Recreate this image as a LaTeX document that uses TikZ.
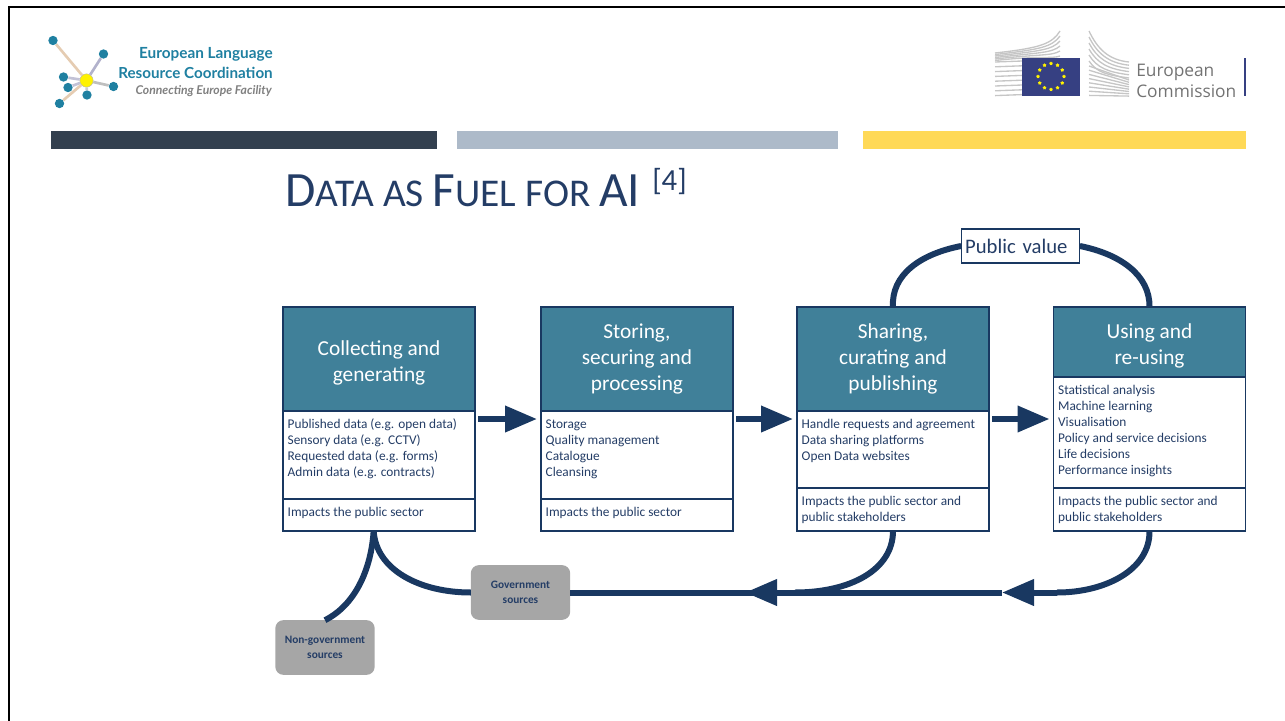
\documentclass[tikz,border=0pt]{standalone}
\usepackage{fontspec}
\setmainfont{Carlito}
\newfontfamily\logofont{Lato}
\newfontfamily\ecfont{Open Sans}
\usepackage{tikz}
\usetikzlibrary{positioning,arrows.meta,shapes.geometric}
\definecolor{navyclr}{rgb}{0.10, 0.22, 0.38}
\definecolor{txtclr}{rgb}{0.14, 0.24, 0.40}
\definecolor{headclr}{rgb}{0.25, 0.50, 0.60}
\definecolor{srcclr}{rgb}{0.65, 0.65, 0.65}
\definecolor{darkbarclr}{rgb}{0.20, 0.25, 0.31}
\definecolor{midbarclr}{rgb}{0.68, 0.73, 0.79}
\definecolor{yelbarclr}{rgb}{1.00, 0.85, 0.34}
\definecolor{tealclr}{rgb}{0.12, 0.50, 0.63}
\definecolor{flagclr}{rgb}{0.21, 0.25, 0.51}
\newcommand{\celltext}[2]{\parbox[t][#1][t]{137pt}{\vspace*{4.8pt}\strut #2}}
\newcommand{\titlecap}[1]{{\fontsize{37}{36}\selectfont #1}}
\tikzset{ %
  ,head/.style={draw=navyclr, line width=0.9pt, fill=headclr, text=white, outer sep=0, inner sep=0, minimum width=144pt, align=center, font=\fontsize{16}{19.5}\selectfont}
  ,cell/.style={draw=navyclr, line width=0.9pt, fill=white, text=txtclr, outer sep=0, inner xsep=3.5pt, inner ysep=0, node distance=0pt, font=\fontsize{10}{12}\selectfont}
  ,src/.style={fill=srcclr, text=txtclr, rounded corners=6pt, outer sep=0, inner sep=0, minimum width=74.5pt, minimum height=41pt, align=center, font=\fontsize{8.5}{11}\selectfont\bfseries}
  ,flow/.style={navyclr, line width=4.5pt}
  ,tip/.style={flow, -{Triangle[length=24pt, width=19pt]}}
  ,bar/.style={inner sep=0, outer sep=0, minimum height=13.5pt}
  ,leaf/.style={circle, fill=tealclr, inner sep=0, minimum size=7pt}
  ,spoke/.style={line width=2pt}
  ,stripe/.style={gray!45, line width=1pt}
}
\begin{document}
\begin{tikzpicture}[x=0.75pt, y=-0.75pt]
  \useasboundingbox (0,0) rectangle (1285,721);
  \draw[line width=2.2pt] (9,721) -- (9,7) -- (1285,7);
  % bars
  \node[bar, fill=darkbarclr, minimum width=289.5pt, anchor=north west] (bar1) at (51,131) {};
  \node[bar, fill=midbarclr, minimum width=285.75pt, anchor=north west] (bar2) at (457,131) {};
  \node[bar, fill=yelbarclr, minimum width=287.25pt, anchor=north west] (bar3) at (863,131) {};
  % elrc logo
  \node[circle, fill=yellow, draw=gray!60, line width=0.3pt, inner sep=0, minimum size=10pt] (hub) at (86.5,80.5) {};
  \foreach \x/\y/\clr [count=\i] in {53/40.5/brown!40, 103.5/54/blue!20!gray!50, 63.5/77/blue!20!gray!40, 68/87.5/blue!20!gray!40, 113.5/86.5/gray!50, 87/95/gray!40, 59.5/103.5/brown!40}{
    \node[leaf] (leaf\i) at (\x,\y) {};
    \draw[spoke, \clr] (hub) -- (leaf\i);
  }
  \node[anchor=east, inner sep=0, text=tealclr, font=\logofont\fontsize{11.5}{12}\selectfont\bfseries] (elrc1) at (273,54) {European Language};
  \node[anchor=east, inner sep=0, text=tealclr, font=\logofont\fontsize{11.4}{12}\selectfont\bfseries] (elrc2) at (273,72.5) {Resource Coordination};
  \node[anchor=east, inner sep=0, text=gray, font=\logofont\fontsize{9.1}{9}\selectfont\bfseries\itshape] (elrc3) at (272,91.5) {Connecting Europe Facility};
  % commission logo
  \foreach \i in {0,...,5}{
    \draw[stripe] (995,{53+\i*1.5}) .. controls (1040,{48+\i*1.5}) and (1052,{44+\i*3}) .. (1060,{31+\i*5});
    \draw[stripe] (1089,{31+\i*6}) .. controls (1097,{48+\i*5}) and (1108,{60+\i*3}) .. (1129,{62+\i*3.2});
  }
  \foreach \i in {0,...,7}{
    \draw[stripe] (995,{62+\i*4.8}) -- (1022,{61+\i*4.8});
    \draw[stripe] (1089,{66+\i*4.2}) -- (1129,{80+\i*2.3});
  }
  \node[fill=flagclr, inner sep=0, outer sep=0, minimum width=43.5pt, minimum height=28.5pt] (flag) at (1051,77) {};
  \foreach \a [count=\i] in {0,30,...,330}{
    \node[star, star points=5, fill=yellow, inner sep=0, minimum size=3pt] (star\i) at ({1051+13*cos(\a)},{76.5+13*sin(\a)}) {};
  }
  \node[anchor=west, inner sep=0, text=gray!90!black, font=\ecfont\fontsize{13}{15}\selectfont] (ec1) at (1136,72) {European};
  \node[anchor=west, inner sep=0, text=gray!90!black, font=\ecfont\fontsize{13}{15}\selectfont] (ec2) at (1136,91) {Commission};
  \node[fill=flagclr, inner sep=0, outer sep=0, minimum width=2pt, minimum height=28.5pt] (ecbar) at (1245,77) {};
  % title
  \node[anchor=base west, inner sep=0, text=txtclr, font=\fontsize{29.5}{36}\selectfont] (title) at (285,206) {\titlecap{D}ATA AS \titlecap{F}UEL FOR \titlecap{AI}\hspace{9pt}\raisebox{12pt}{\fontsize{23}{24}\selectfont [4]}};
  % boxes
  \node[head, minimum height=78pt] (head1) at (379,359) {\rule{0pt}{17pt}Collecting and\\generating};
  \node[cell, below=of head1] (body1) {\celltext{66pt}{Published data (e.g. open data)\\Sensory data (e.g. CCTV)\\Requested data (e.g. forms)\\Admin data (e.g. contracts)}};
  \node[cell, below=of body1] (foot1) {\celltext{24pt}{Impacts the public sector}};
  \node[head, minimum height=78pt] (head2) at (637,359) {Storing,\\securing and\\processing};
  \node[cell, below=of head2] (body2) {\celltext{66pt}{Storage\\Quality management\\Catalogue\\Cleansing}};
  \node[cell, below=of body2] (foot2) {\celltext{24pt}{Impacts the public sector}};
  \node[head, minimum height=78pt] (head3) at (893,359) {Sharing,\\curating and\\publishing};
  \node[cell, below=of head3] (body3) {\celltext{57.75pt}{Handle requests and agreement\\Data sharing platforms\\Open Data websites}};
  \node[cell, below=of body3] (foot3) {\celltext{32.25pt}{Impacts the public sector and\\public stakeholders}};
  \node[head, minimum height=52.5pt] (head4) at (1149.5,342) {\rule{0pt}{17pt}Using and\\re-using};
  \node[cell, below=of head4] (body4) {\celltext{83.25pt}{Statistical analysis\\Machine learning\\Visualisation\\Policy and service decisions\\Life decisions\\Performance insights}};
  \node[cell, below=of body4] (foot4) {\celltext{32.25pt}{Impacts the public sector and\\public stakeholders}};
  \node[draw=navyclr, line width=0.9pt, fill=white, text=txtclr, inner xsep=3pt, inner ysep=0, outer sep=0, text width=83pt, minimum height=25.5pt, align=left, font=\fontsize{15.5}{18}\selectfont] (value) at (1020.5,246) {Public value};
  \node[src] (nongov) at (325,647.5) {Non-government\\sources};
  \node[src] (gov) at (520.5,592.5) {Government\\sources};
  % arrows between boxes
  \draw[tip] ([shift={(3,8)}]body1.north east) -- ([shift={(-4,8)}]body2.north west);
  \draw[tip] ([shift={(3,8)}]body2.north east) -- ([shift={(-4,8)}]body3.north west);
  \draw[tip] ([shift={(3,8)}]body3.north east) -- ([shift={(-4,42)}]body4.north west);
  % public value loop
  \draw[flow] (head3.north) .. controls (891,275) and (920,254) .. (value.west);
  \draw[flow] (head4.north) .. controls (1150,275) and (1120,254) .. (value.east);
  % return line
  \coordinate (join3) at (795,592.5);
  \coordinate (join4) at (1057,592.5);
  \coordinate (tip3) at (745,592.5);
  \coordinate (tip4) at (1002,592.5);
  \coordinate (start1) at ([xshift=-4pt]foot1.south);
  \draw[flow] (foot3.south) .. controls (893,570) and (850,592.5) .. (join3);
  \draw[flow] (foot4.south) .. controls (1150,570) and (1105,592.5) .. (join4);
  \draw[tip] (join4) -- (tip4);
  \draw[flow] (tip4) -- (tip3);
  \draw[tip] (join3) -- (tip3);
  \draw[flow] (tip3) -- (gov.east);
  \draw[flow] (start1) .. controls (376,570) and (420,592.5) .. (gov.west);
  \draw[flow] (start1) .. controls (371,570) and (355,605) .. (nongov.north);
\end{tikzpicture}
\end{document}
